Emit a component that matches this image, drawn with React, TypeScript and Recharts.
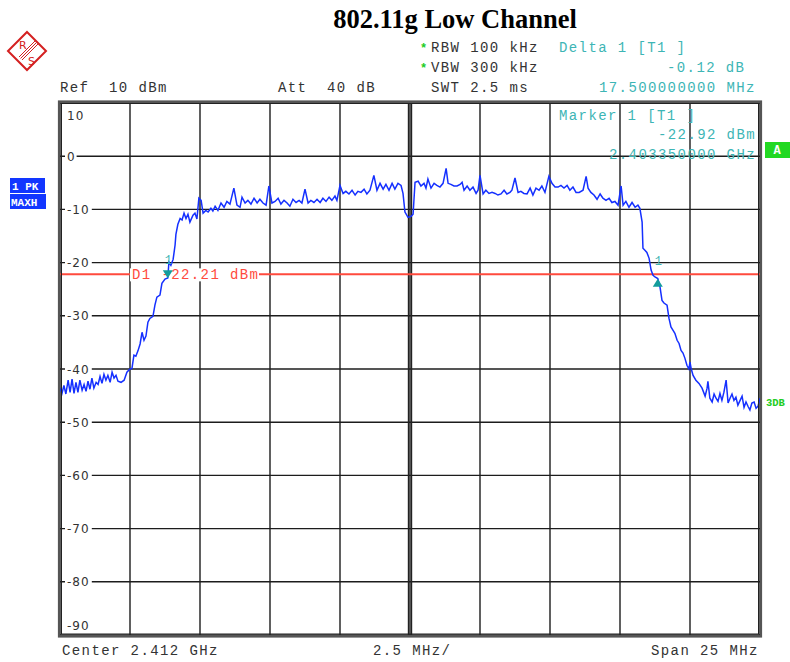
import React from 'react';
import { LineChart, Line, XAxis, YAxis, CartesianGrid, ReferenceLine, ReferenceDot } from 'recharts';

const MONO = "'Liberation Mono', 'DejaVu Sans Mono', monospace";

// sweep: frequency in MHz, max-hold peak level in dBm
const freqMHz = [
  2399.5, 2399.57, 2399.64, 2399.71, 2399.79, 2399.86, 2399.93, 2400.0, 2400.07, 2400.14,
  2400.21, 2400.29, 2400.36, 2400.43, 2400.5, 2400.57, 2400.64, 2400.71, 2400.79, 2400.86,
  2400.93, 2401.0, 2401.07, 2401.14, 2401.21, 2401.29, 2401.36, 2401.43, 2401.5, 2401.57,
  2401.68, 2401.79, 2401.89, 2402.0, 2402.07, 2402.14, 2402.21, 2402.29, 2402.36, 2402.43,
  2402.5, 2402.57, 2402.64, 2402.71, 2402.82, 2402.89, 2402.96, 2403.07, 2403.14, 2403.25,
  2403.35, 2403.39, 2403.46, 2403.54, 2403.61, 2403.64, 2403.71, 2403.79, 2403.86, 2403.93,
  2404.0, 2404.07, 2404.14, 2404.25, 2404.32, 2404.39, 2404.46, 2404.54, 2404.61, 2404.71,
  2404.79, 2404.89, 2404.96, 2405.04, 2405.14, 2405.25, 2405.36, 2405.46, 2405.57, 2405.71,
  2405.82, 2405.93, 2406.0, 2406.11, 2406.21, 2406.32, 2406.43, 2406.54, 2406.64, 2406.75,
  2406.86, 2406.96, 2407.07, 2407.18, 2407.29, 2407.39, 2407.5, 2407.61, 2407.71, 2407.82,
  2407.93, 2408.04, 2408.14, 2408.25, 2408.36, 2408.46, 2408.57, 2408.68, 2408.79, 2408.89,
  2409.0, 2409.11, 2409.21, 2409.32, 2409.39, 2409.5, 2409.61, 2409.71, 2409.82, 2409.93,
  2410.04, 2410.14, 2410.25, 2410.36, 2410.46, 2410.57, 2410.71, 2410.82, 2410.93, 2411.04,
  2411.14, 2411.25, 2411.36, 2411.46, 2411.57, 2411.68, 2411.75, 2411.82, 2411.93, 2412.04,
  2412.11, 2412.18, 2412.29, 2412.39, 2412.5, 2412.57, 2412.64, 2412.75, 2412.86, 2412.96,
  2413.07, 2413.18, 2413.29, 2413.36, 2413.46, 2413.57, 2413.68, 2413.79, 2413.86, 2413.93,
  2414.04, 2414.14, 2414.25, 2414.36, 2414.43, 2414.5, 2414.61, 2414.71, 2414.82, 2414.93,
  2415.04, 2415.14, 2415.25, 2415.36, 2415.46, 2415.57, 2415.64, 2415.75, 2415.86, 2415.96,
  2416.07, 2416.18, 2416.29, 2416.39, 2416.5, 2416.61, 2416.71, 2416.82, 2416.96, 2417.07,
  2417.18, 2417.29, 2417.39, 2417.5, 2417.61, 2417.71, 2417.82, 2417.93, 2418.04, 2418.18,
  2418.29, 2418.36, 2418.46, 2418.57, 2418.68, 2418.79, 2418.89, 2419.0, 2419.11, 2419.21,
  2419.32, 2419.43, 2419.54, 2419.61, 2419.71, 2419.82, 2419.93, 2420.04, 2420.14, 2420.21,
  2420.29, 2420.32, 2420.39, 2420.46, 2420.54, 2420.61, 2420.68, 2420.75, 2420.85, 2420.93,
  2421.0, 2421.07, 2421.18, 2421.25, 2421.32, 2421.39, 2421.46, 2421.54, 2421.61, 2421.68,
  2421.75, 2421.82, 2421.89, 2421.96, 2422.0, 2422.04, 2422.11, 2422.21, 2422.32, 2422.43,
  2422.54, 2422.61, 2422.64, 2422.71, 2422.79, 2422.86, 2422.93, 2423.0, 2423.07, 2423.14,
  2423.21, 2423.29, 2423.36, 2423.43, 2423.5, 2423.57, 2423.64, 2423.71, 2423.79, 2423.86,
  2423.93, 2424.0, 2424.07, 2424.14, 2424.21, 2424.29, 2424.36, 2424.43, 2424.5,
];

const levelDbm = [
  -43.6, -44.6, -43.1, -44.7, -42.1, -44.4, -41.9, -44.6, -42.5, -44.4,
  -42.1, -44.0, -42.9, -44.2, -42.3, -43.8, -41.7, -43.6, -42.5, -42.9,
  -41.4, -42.7, -41.0, -42.1, -41.2, -42.5, -40.6, -41.7, -41.2, -42.3,
  -42.5, -42.1, -40.6, -40.0, -39.9, -37.4, -37.6, -36.5, -35.3, -33.1,
  -34.6, -33.8, -31.2, -30.5, -30.1, -28.0, -26.5, -26.1, -23.9, -23.1,
  -22.9, -19.9, -20.5, -19.4, -16.7, -14.7, -12.8, -11.7, -12.0, -10.7,
  -11.7, -10.9, -12.4, -11.1, -10.7, -11.8, -7.9, -8.3, -10.7, -10.2,
  -10.5, -9.8, -10.3, -9.4, -10.2, -8.8, -9.6, -8.5, -9.0, -6.0,
  -9.2, -9.6, -7.7, -8.8, -8.3, -9.0, -7.9, -8.8, -8.1, -8.8,
  -9.2, -5.6, -8.8, -8.5, -7.9, -9.0, -8.3, -8.8, -9.4, -8.1,
  -8.7, -8.3, -8.8, -6.2, -8.8, -8.3, -8.7, -8.1, -8.7, -7.9,
  -8.5, -7.7, -8.3, -7.5, -8.3, -5.5, -7.0, -6.6, -7.1, -6.4,
  -7.3, -6.6, -6.8, -6.2, -7.1, -6.4, -3.6, -6.4, -5.1, -6.2,
  -5.3, -6.4, -5.1, -6.2, -5.1, -5.5, -7.0, -10.5, -11.5, -11.3,
  -10.9, -4.9, -4.7, -5.6, -5.1, -6.0, -4.3, -6.0, -5.1, -5.5,
  -5.8, -5.1, -2.3, -5.1, -5.3, -5.6, -5.6, -5.3, -4.9, -6.4,
  -5.6, -6.4, -5.8, -7.0, -6.4, -3.6, -7.1, -6.4, -7.0, -6.8,
  -7.0, -7.3, -7.1, -6.4, -7.1, -6.8, -6.4, -4.1, -6.8, -6.6,
  -7.0, -7.1, -6.0, -7.3, -6.0, -6.4, -5.6, -6.8, -3.8, -5.1,
  -5.8, -5.8, -5.5, -6.0, -5.5, -6.4, -5.8, -6.8, -6.8, -6.4,
  -3.8, -6.0, -6.8, -7.3, -8.1, -7.1, -7.9, -8.3, -7.9, -8.7,
  -8.5, -9.2, -5.6, -9.2, -8.5, -9.6, -8.7, -9.6, -9.2, -9.8,
  -12.4, -17.3, -17.7, -18.1, -19.2, -21.4, -22.4, -22.7, -23.0, -24.6,
  -27.1, -27.6, -28.0, -30.5, -32.1, -32.7, -33.3, -34.6, -35.2, -36.5,
  -37.0, -38.0, -39.3, -40.0, -38.7, -39.9, -41.2, -42.1, -42.7, -43.6,
  -45.1, -43.6, -42.3, -45.5, -46.2, -44.7, -45.5, -46.1, -44.6, -45.9,
  -44.4, -42.1, -46.4, -45.5, -44.7, -45.9, -45.3, -46.8, -45.9, -45.1,
  -47.2, -46.2, -47.0, -47.7, -46.4, -46.2, -47.4, -47.0, -45.5,
];

const freqTicks = [2399.5, 2402, 2404.5, 2407, 2409.5, 2412, 2414.5, 2417, 2419.5, 2422, 2424.5];
const levelTicks = [10, 0, -10, -20, -30, -40, -50, -60, -70, -80, -90];
const centerFreq = 2412;
const displayLine = -22.21;
const marker1 = { freq: 2403.35, level: -22.92 };
const delta1 = { freq: 2420.85, level: -23.04 };

const traceData = freqMHz.map((f, i) => ({ f, level: levelDbm[i] }));

const LevelLabel = (props: any) => {
  const { viewBox, tickValue } = props;
  const y = viewBox.y;
  const label = String(tickValue);
  const edge = tickValue === 10 || tickValue === -90;
  const dy = tickValue === 10 ? 12 : tickValue === -90 ? -10 : 0;
  return (
    <g>
      {!edge && <rect x={viewBox.x + 5} y={y - 7} width={label.length * 7.6 + 4} height={14} fill="#fff" />}
      <text x={viewBox.x + 7} y={y + dy + 4.5} fontFamily="'DejaVu Sans', sans-serif" fontSize={12} letterSpacing={1} fill="#333">
        {label}
      </text>
    </g>
  );
};

const CenterLine = (props: any) => {
  const { x1, y1, y2 } = props;
  return (
    <g>
      <line x1={x1 - 1.5} x2={x1 - 1.5} y1={y1} y2={y2} stroke="#222" strokeWidth={1.4} />
      <line x1={x1 + 1.5} x2={x1 + 1.5} y1={y1} y2={y2} stroke="#222" strokeWidth={1.4} />
    </g>
  );
};

const D1Label = (props: any) => {
  const { viewBox } = props;
  const x = viewBox.x + 70;
  const y = viewBox.y;
  return (
    <g>
      <rect x={x} y={y - 6} width={129} height={13} fill="#fff" />
      <text x={x + 2} y={y + 5} fontFamily={MONO} fontSize={14} letterSpacing={1.4} fill="#ff4a3d">
        D1 -22.21 dBm
      </text>
    </g>
  );
};

const MarkerDown = (props: any) => {
  const { cx, cy } = props;
  return (
    <g>
      <polygon points={`${cx - 5},${cy - 8} ${cx + 5},${cy - 8} ${cx},${cy}`} fill="#149c9c" />
      <text x={cx - 3} y={cy - 14} fontFamily={MONO} fontSize={12} fill="#3db5b5">1</text>
    </g>
  );
};

const MarkerUp = (props: any) => {
  const { cx, cy } = props;
  return (
    <g>
      <polygon points={`${cx - 5},${cy + 8} ${cx + 5},${cy + 8} ${cx},${cy}`} fill="#149c9c" />
      <text x={cx - 3} y={cy - 14} fontFamily={MONO} fontSize={12} fill="#3db5b5">1</text>
    </g>
  );
};

const txt = (x: number, y: number, s: string, fill = '#333') => (
  <text x={x} y={y} fontFamily={MONO} fontSize={14} letterSpacing={1.4} fill={fill} style={{ whiteSpace: 'pre' }}>
    {s}
  </text>
);

const Overlay = () => (
  <svg width={790} height={662} style={{ position: 'absolute', left: 0, top: 0, pointerEvents: 'none' }}>
    <text x={455} y={28} textAnchor="middle" fontFamily="'Liberation Serif', 'Times New Roman', serif" fontWeight="bold" fontSize={26.5} fill="#000">
      802.11g Low Channel
    </text>
    {/* R&S logo */}
    <g stroke="#d42020" fill="none">
      <polygon points="27,32 46,51 27,70 8,51" strokeWidth={2} />
      <line x1={19} y1={57} x2={35} y2={41} strokeWidth={1} />
      <line x1={20.5} y1={58.5} x2={36.5} y2={42.5} strokeWidth={1} />
      <line x1={22} y1={60} x2={38} y2={44} strokeWidth={1} />
    </g>
    <text x={19} y={49} fontFamily="'DejaVu Sans', sans-serif" fontSize={11} fill="#d42020">R</text>
    <text x={28} y={65} fontFamily="'DejaVu Sans', sans-serif" fontSize={11} fill="#d42020">S</text>

    <text x={420} y={52} fontFamily={MONO} fontSize={12} fontWeight="bold" fill="#22cc22">*</text>
    <text x={420} y={72} fontFamily={MONO} fontSize={12} fontWeight="bold" fill="#22cc22">*</text>
    {txt(431, 52, 'RBW 100 kHz')}
    {txt(431, 72, 'VBW 300 kHz')}
    {txt(431, 92, 'SWT 2.5 ms')}
    {txt(60, 92, 'Ref  10 dBm')}
    {txt(278, 92, 'Att  40 dB')}
    {txt(559, 52, 'Delta 1 [T1 ]', '#3db5b5')}
    {txt(667, 72, '-0.12 dB', '#3db5b5')}
    {txt(599, 92, '17.500000000 MHz', '#3db5b5')}
    {txt(559, 120, 'Marker 1 [T1 ]', '#3db5b5')}
    {txt(658, 139, '-22.92 dBm', '#3db5b5')}
    {txt(609, 159, '2.403350000 GHz', '#3db5b5')}

    {/* frame */}
    <rect x={59} y={101.5} width={702} height={535} fill="none" stroke="#555" strokeWidth={2.2} />
    <rect x={61.5} y={103.5} width={697} height={530.5} fill="none" stroke="#222" strokeWidth={1} />

    <rect x={10} y={178} width={35} height={15} fill="#1236ff" />
    <text x={12} y={189.5} fontFamily={MONO} fontSize={11} fontWeight="bold" fill="#fff" style={{ whiteSpace: 'pre' }}>1 PK</text>
    <rect x={10} y={194} width={36} height={15} fill="#1236ff" />
    <text x={11} y={205.5} fontFamily={MONO} fontSize={11} fontWeight="bold" fill="#fff">MAXH</text>

    <rect x={765} y={142} width={25} height={16} fill="#22d822" />
    <text x={777} y={154} textAnchor="middle" fontFamily={MONO} fontSize={12} fontWeight="bold" fill="#fff">A</text>
    <text x={766} y={406} fontFamily={MONO} fontSize={10.5} fontWeight="bold" fill="#22cc22">3DB</text>

    {txt(62, 655, 'Center 2.412 GHz')}
    {txt(373, 655, '2.5 MHz/')}
    {txt(651, 655, 'Span 25 MHz')}
  </svg>
);

export default function App() {
  return (
    <div style={{ position: 'absolute', left: 0, top: 0, width: 790, height: 662, background: '#fff' }}>
      <LineChart width={790} height={662} data={traceData} margin={{ top: 103, right: 30, bottom: 27, left: 60 }}>
        <CartesianGrid stroke="#1c1c1c" strokeWidth={1.4} horizontal={false} vertical />
        <XAxis dataKey="f" type="number" domain={[2399.5, 2424.5]} ticks={freqTicks} hide allowDataOverflow />
        <YAxis type="number" domain={[-90, 10]} ticks={levelTicks} hide allowDataOverflow />
        {levelTicks.map((v) => (
          <ReferenceLine
            key={v}
            y={v}
            stroke="#1c1c1c"
            strokeWidth={1.4}
            label={(p: any) => <LevelLabel {...p} tickValue={v} />}
          />
        ))}
        <ReferenceLine x={centerFreq} shape={<CenterLine />} />
        <ReferenceLine y={displayLine} stroke="#ff4a3d" strokeWidth={2} label={<D1Label />} />
        <Line
          type="linear"
          dataKey="level"
          stroke="#1530ff"
          strokeWidth={1.5}
          dot={false}
          isAnimationActive={false}
        />
        <ReferenceDot x={marker1.freq} y={marker1.level} shape={<MarkerDown />} />
        <ReferenceDot x={delta1.freq} y={delta1.level} shape={<MarkerUp />} />
      </LineChart>
      <Overlay />
    </div>
  );
}
